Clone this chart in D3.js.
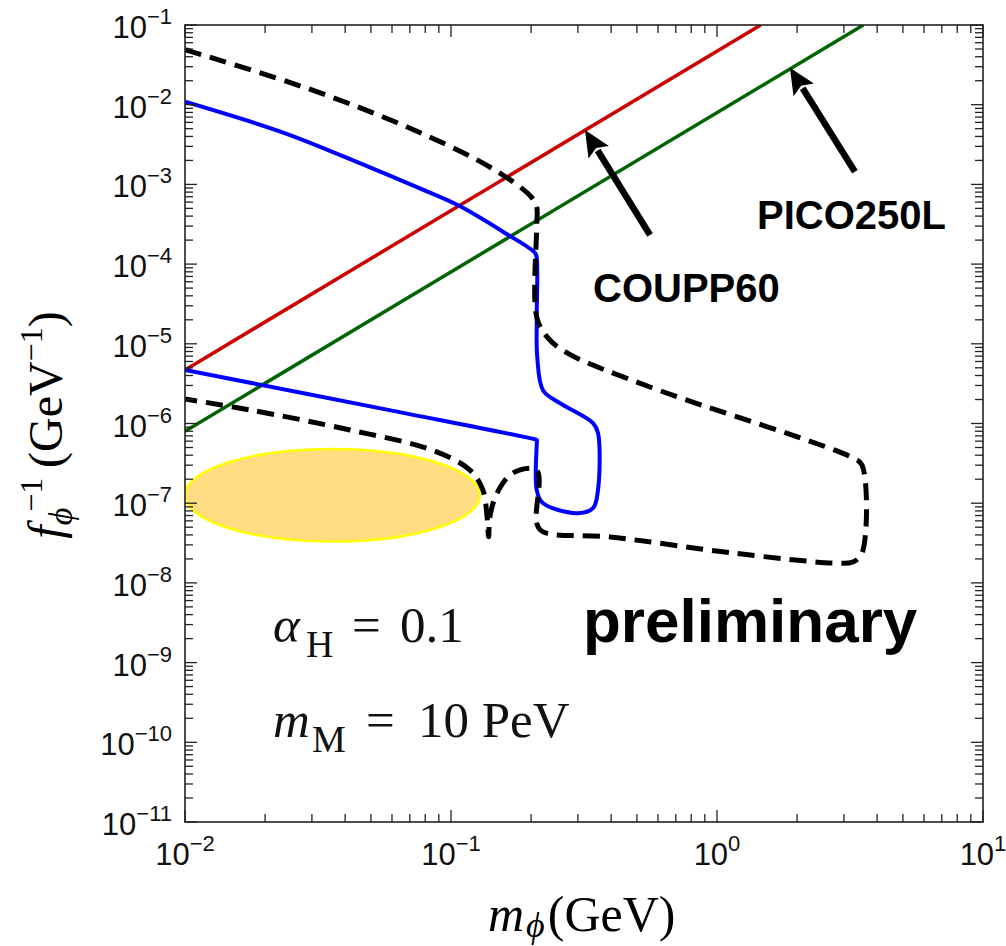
<!DOCTYPE html>
<html><head><meta charset="utf-8">
<script src="https://cdn.jsdelivr.net/npm/d3@7"></script>
<style>body{margin:0;background:#fff}svg{display:block}</style>
</head><body>
<svg id="c" width="1006" height="946"></svg>
<script>
// ---- data ----
const xDecades = [-2, -1, 0, 1];
const yDecades = [-11, -10, -9, -8, -7, -6, -5, -4, -3, -2, -1];

// COUPP60 limit (red)
const coupX = [0.01, 1.46];
const coupY = [4.7e-6, 0.1];
// PICO250L limit (green)
const picoX = [0.01, 3.55];
const picoY = [8e-7, 0.1];

// blue contour
const blueX = [0.01, 0.0238, 0.0488, 0.0752, 0.106, 0.1595, 0.207, 0.21, 0.21, 0.211, 0.222, 0.257, 0.342, 0.357, 0.357, 0.342, 0.298, 0.222, 0.21, 0.21, 0.21, 0.2, 0.06, 0.01];
const blueY = [1.09e-2, 4.38e-3, 1.67e-3, 9.1e-4, 5.5e-4, 2.46e-4, 1.38e-4, 1.2e-4, 2e-5, 6.8e-6, 2.6e-6, 1.8e-6, 1.01e-6, 7.6e-7, 1.47e-7, 8.7e-8, 7.5e-8, 1.0e-7, 1.47e-7, 5.5e-7, 6.2e-7, 6.5e-7, 1.45e-6, 4.7e-6];

// black dashed contour
const dashX = [0.01, 0.030, 0.0752, 0.146, 0.2, 0.21, 0.21, 0.21, 0.2296, 0.273, 0.56, 3.24, 3.51, 3.51, 3.24, 2.73, 1.148, 0.396, 0.222, 0.21, 0.21, 0.171, 0.149, 0.140, 0.1385, 0.1365, 0.1318, 0.1178, 0.0855, 0.0417, 0.01754, 0.01];
const dashY = [4.9e-2, 1.53e-2, 4.58e-3, 1.52e-3, 7.0e-4, 5.2e-4, 3e-4, 2.17e-5, 1.22e-5, 7.7e-6, 2.87e-6, 3.7e-7, 3.0e-7, 2.37e-8, 1.83e-8, 1.78e-8, 2.37e-8, 3.77e-8, 4.36e-8, 5.6e-8, 2.6e-7, 2.4e-7, 1.34e-7, 6.7e-8, 3.8e-8, 7e-8, 1.46e-7, 2.6e-7, 4.6e-7, 8.3e-7, 1.48e-6, 2.03e-6];

// yellow ellipse region (bounds)
const ellX = [0.01, 0.1285];
const ellY = [3.3e-8, 4.8e-7];

// arrows: [tailX, tailY, tipX, tipY]
const arrowCoupp = [0.56, 2.32e-4, 0.319, 4.8e-3];
const arrowPico = [3.30, 1.44e-3, 1.88, 2.9e-2];

// ---- drawing ----
const svg = d3.select("#c");
const L = 185, R = 983, T = 25, B = 822;
const x = d3.scaleLog().domain([0.01, 10]).range([L, R]);
const y = d3.scaleLog().domain([1e-11, 1e-1]).range([B, T]);

svg.append("defs").append("clipPath").attr("id", "clip")
  .append("rect").attr("x", L).attr("y", T).attr("width", R - L).attr("height", B - T);

const plot = svg.append("g").attr("clip-path", "url(#clip)");

// ellipse
const ecx = (x(ellX[0]) + x(ellX[1])) / 2, ecy = (y(ellY[0]) + y(ellY[1])) / 2;
plot.append("ellipse")
  .attr("cx", ecx).attr("cy", ecy)
  .attr("rx", (x(ellX[1]) - x(ellX[0])) / 2)
  .attr("ry", (y(ellY[0]) - y(ellY[1])) / 2)
  .attr("fill", "#fddc82").attr("stroke", "#ffff00").attr("stroke-width", 2.5);

const zip = (a, b) => a.map((v, i) => [v, b[i]]);
const lineLin = d3.line().x(d => x(d[0])).y(d => y(d[1]));
const lineSmooth = d3.line().x(d => x(d[0])).y(d => y(d[1])).curve(d3.curveCatmullRom.alpha(0.5));

plot.append("path").attr("d", lineLin(zip(coupX, coupY)))
  .attr("fill", "none").attr("stroke", "#cc0000").attr("stroke-width", 3.5);
plot.append("path").attr("d", lineLin(zip(picoX, picoY)))
  .attr("fill", "none").attr("stroke", "#006400").attr("stroke-width", 3.5);
plot.append("path").attr("d", lineSmooth(zip(blueX, blueY)))
  .attr("fill", "none").attr("stroke", "#0000ff").attr("stroke-width", 4).attr("stroke-linejoin", "round");
plot.append("path").attr("d", lineSmooth(zip(dashX, dashY)))
  .attr("fill", "none").attr("stroke", "#000").attr("stroke-width", 5)
  .attr("stroke-dasharray", "17,9");

// arrows
function arrow(a) {
  const x0 = x(a[0]), y0 = y(a[1]), x1 = x(a[2]), y1 = y(a[3]);
  const dx = x1 - x0, dy = y1 - y0, len = Math.hypot(dx, dy);
  const ux = dx / len, uy = dy / len, px = -uy, py = ux;
  const hl = 26, hw = 12;
  const bx = x1 - ux * hl, by = y1 - uy * hl;
  svg.append("line").attr("x1", x0).attr("y1", y0).attr("x2", bx + ux * 2).attr("y2", by + uy * 2)
    .attr("stroke", "#000").attr("stroke-width", 6.5);
  svg.append("polygon")
    .attr("points", [[x1, y1], [bx + px * hw, by + py * hw], [bx + ux * 5, by + uy * 5], [bx - px * hw, by - py * hw]].map(p => p.join(",")).join(" "))
    .attr("fill", "#000");
}
arrow(arrowCoupp);
arrow(arrowPico);

// frame
svg.append("rect").attr("x", L).attr("y", T).attr("width", R - L).attr("height", B - T)
  .attr("fill", "none").attr("stroke", "#222").attr("stroke-width", 1.6);

// ticks
const tk = svg.append("g").attr("stroke", "#222").attr("stroke-width", 1.3);
xDecades.forEach(d => {
  for (let k = 1; k <= 9; k++) {
    const v = k * Math.pow(10, d);
    if (v > 10 + 1e-9) continue;
    const len = k === 1 ? 12 : 8, px = x(v);
    tk.append("line").attr("x1", px).attr("x2", px).attr("y1", B).attr("y2", B - len);
    tk.append("line").attr("x1", px).attr("x2", px).attr("y1", T).attr("y2", T + len);
  }
});
yDecades.forEach(d => {
  for (let k = 1; k <= 9; k++) {
    const v = k * Math.pow(10, d);
    if (v > 0.1 + 1e-12) continue;
    const len = k === 1 ? 12 : 8, py = y(v);
    tk.append("line").attr("y1", py).attr("y2", py).attr("x1", L).attr("x2", L + len);
    tk.append("line").attr("y1", py).attr("y2", py).attr("x1", R).attr("x2", R - len);
  }
});

const sans = "'Liberation Sans', Arial, Helvetica, sans-serif";
const serif = "'Liberation Serif', 'Times New Roman', serif";
const minus = s => String(s).replace("-", "\u2212");

// y tick labels
yDecades.forEach(d => {
  const t = svg.append("text").attr("x", 172).attr("y", y(Math.pow(10, d)) + 13)
    .attr("text-anchor", "end").attr("font-family", sans).attr("font-size", 31).attr("fill", "#111");
  t.append("tspan").text("10");
  t.append("tspan").attr("font-size", 22).attr("dy", -14).text(minus(d));
});
// x tick labels
xDecades.forEach(d => {
  const t = svg.append("text").attr("x", x(Math.pow(10, d))).attr("y", 865)
    .attr("text-anchor", "middle").attr("font-family", sans).attr("font-size", 31).attr("fill", "#111");
  t.append("tspan").text("10");
  t.append("tspan").attr("font-size", 22).attr("dy", -14).text(minus(d));
});

// axis labels
const xl = svg.append("text").attr("x", 488).attr("y", 931).attr("font-family", serif).attr("font-size", 50);
xl.append("tspan").attr("font-style", "italic").text("m");
xl.append("tspan").attr("font-style", "italic").attr("font-size", 36).attr("dy", 6).attr("dx", 2).text("\u03d5");
xl.append("tspan").attr("dy", -6).attr("dx", 3).text("(GeV)");

const yl = svg.append("text").attr("transform", "translate(62,425) rotate(-90)")
  .attr("text-anchor", "middle").attr("font-family", serif).attr("font-size", 48);
yl.append("tspan").attr("font-style", "italic").text("f");
yl.append("tspan").attr("font-style", "italic").attr("font-size", 34).attr("dy", 10).text("\u03d5");
yl.append("tspan").attr("font-size", 32).attr("dy", -30).attr("dx", -4).text("\u22121");
yl.append("tspan").attr("dy", 20).text("\u2009(GeV");
yl.append("tspan").attr("font-size", 32).attr("dy", -20).text("\u22121");
yl.append("tspan").attr("dy", 20).text(")");

// annotation texts
svg.append("text").attr("x", 593).attr("y", 302).attr("font-family", sans).attr("font-weight", "bold")
  .attr("font-size", 40).text("COUPP60");
svg.append("text").attr("x", 757).attr("y", 229).attr("font-family", sans).attr("font-weight", "bold")
  .attr("font-size", 40).text("PICO250L");
svg.append("text").attr("x", 583).attr("y", 642).attr("font-family", sans).attr("font-weight", "bold")
  .attr("font-size", 62).text("preliminary");

const p1 = svg.append("text").attr("font-family", serif).attr("font-size", 51).attr("fill", "#111");
p1.append("tspan").attr("x", 273).attr("y", 642).attr("font-style", "italic").text("\u03b1");
p1.append("tspan").attr("x", 306).attr("y", 657).attr("font-size", 38).text("H");
p1.append("tspan").attr("x", 352).attr("y", 642).text("=");
p1.append("tspan").attr("x", 400).attr("y", 642).text("0.1");
const p2 = svg.append("text").attr("font-family", serif).attr("font-size", 51).attr("fill", "#111");
p2.append("tspan").attr("x", 273).attr("y", 737).attr("font-style", "italic").text("m");
p2.append("tspan").attr("x", 312).attr("y", 752).attr("font-size", 38).text("M");
p2.append("tspan").attr("x", 366).attr("y", 737).text("=");
p2.append("tspan").attr("x", 418).attr("y", 737).text("10 PeV");
</script>
</body></html>
